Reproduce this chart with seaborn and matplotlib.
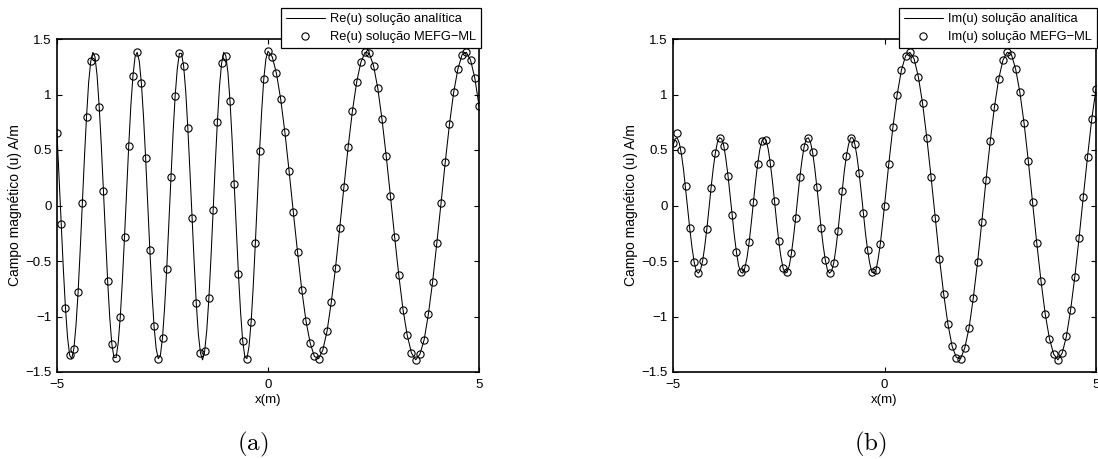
import numpy as np
import pandas as pd
import matplotlib
matplotlib.use("Agg")
import matplotlib.pyplot as plt
import seaborn as sns

# Sampling grids: analytic curve is sampled finer on x<0 (shorter wavelength)
x_line = np.concatenate([np.linspace(-5.0, 0.0, 101), np.linspace(0.1, 5.0, 50)])
x_mark = np.linspace(-5.0, 5.0, 101)

# Re(u), analytic solution
re_line = [
    0.65, 0.25, -0.17, -0.57, -0.92, -1.19, -1.35, -1.38, -1.29, -1.08,
    -0.78, -0.40, 0.02, 0.43, 0.80, 1.11, 1.30, 1.38, 1.34, 1.17,
    0.89, 0.54, 0.13, -0.29, -0.68, -1.01, -1.25, -1.37, -1.37, -1.24,
    -1.00, -0.67, -0.28, 0.14, 0.54, 0.90, 1.17, 1.34, 1.38, 1.30,
    1.10, 0.80, 0.43, 0.01, -0.40, -0.78, -1.09, -1.29, -1.38, -1.35,
    -1.19, -0.92, -0.57, -0.16, 0.26, 0.65, 0.99, 1.23, 1.37, 1.37,
    1.26, 1.03, 0.70, 0.31, -0.11, -0.51, -0.88, -1.16, -1.33, -1.39,
    -1.31, -1.12, -0.83, -0.46, -0.04, 0.37, 0.75, 1.07, 1.28, 1.38,
    1.35, 1.20, 0.94, 0.59, 0.19, -0.22, -0.62, -0.96, -1.22, -1.36,
    -1.38, -1.27, -1.05, -0.73, -0.34, 0.08, 0.49, 0.85, 1.14, 1.32,
    1.39,
    1.34, 1.19, 0.96, 0.66, 0.31, -0.06, -0.42, -0.76, -1.04, -1.24,
    -1.36, -1.38, -1.30, -1.13, -0.87, -0.56, -0.20, 0.17, 0.53, 0.85,
    1.11, 1.29, 1.38, 1.37, 1.26, 1.06, 0.78, 0.45, 0.09, -0.28,
    -0.63, -0.94, -1.17, -1.33, -1.39, -1.34, -1.21, -0.98, -0.69, -0.34,
    0.02, 0.39, 0.73, 1.02, 1.23, 1.36, 1.38, 1.31, 1.15, 0.90,
]

# Im(u), analytic solution
im_line = [
    0.54, 0.60, 0.61, 0.56, 0.46, 0.32, 0.14, -0.04, -0.22, -0.38,
    -0.51, -0.59, -0.61, -0.58, -0.50, -0.37, -0.21, -0.03, 0.16, 0.33,
    0.47, 0.57, 0.61, 0.60, 0.54, 0.42, 0.27, 0.09, -0.09, -0.27,
    -0.42, -0.54, -0.60, -0.61, -0.56, -0.47, -0.33, -0.16, 0.03, 0.21,
    0.37, 0.50, 0.58, 0.61, 0.59, 0.51, 0.38, 0.22, 0.04, -0.15,
    -0.32, -0.46, -0.56, -0.61, -0.60, -0.54, -0.43, -0.28, -0.11, 0.08,
    0.26, 0.41, 0.53, 0.60, 0.61, 0.57, 0.48, 0.34, 0.17, -0.01,
    -0.20, -0.36, -0.49, -0.58, -0.61, -0.59, -0.52, -0.39, -0.23, -0.05,
    0.13, 0.31, 0.45, 0.55, 0.61, 0.61, 0.55, 0.44, 0.29, 0.12,
    -0.07, -0.25, -0.40, -0.52, -0.60, -0.61, -0.58, -0.48, -0.35, -0.18,
    0.00,
    0.37, 0.71, 1.00, 1.22, 1.35, 1.38, 1.32, 1.16, 0.92, 0.61,
    0.26, -0.11, -0.48, -0.80, -1.07, -1.27, -1.37, -1.38, -1.28, -1.10,
    -0.83, -0.51, -0.15, 0.23, 0.58, 0.89, 1.14, 1.31, 1.38, 1.36,
    1.23, 1.02, 0.74, 0.40, 0.03, -0.34, -0.68, -0.98, -1.20, -1.34,
    -1.39, -1.33, -1.18, -0.94, -0.64, -0.29, 0.08, 0.44, 0.78, 1.05,
]

# Re(u), MEFG-ML nodal values
re_mark = [
    0.65, -0.17, -0.92, -1.35, -1.29, -0.78, 0.02, 0.80, 1.30, 1.34,
    0.89, 0.13, -0.68, -1.25, -1.37, -1.00, -0.28, 0.54, 1.17, 1.38,
    1.10, 0.43, -0.40, -1.09, -1.38, -1.19, -0.57, 0.26, 0.99, 1.37,
    1.26, 0.70, -0.11, -0.88, -1.33, -1.31, -0.83, -0.04, 0.75, 1.28,
    1.35, 0.94, 0.19, -0.62, -1.22, -1.38, -1.05, -0.34, 0.49, 1.14,
    1.39,
    1.34, 1.19, 0.96, 0.66, 0.31, -0.06, -0.42, -0.76, -1.04, -1.24,
    -1.36, -1.38, -1.30, -1.13, -0.87, -0.56, -0.20, 0.17, 0.53, 0.85,
    1.11, 1.29, 1.38, 1.37, 1.26, 1.06, 0.78, 0.45, 0.09, -0.28,
    -0.63, -0.94, -1.17, -1.33, -1.39, -1.34, -1.21, -0.98, -0.69, -0.34,
    0.02, 0.39, 0.73, 1.02, 1.23, 1.36, 1.38, 1.31, 1.15, 0.90,
]

# Im(u), MEFG-ML nodal values
im_mark = [
    0.56, 0.65, 0.50, 0.18, -0.20, -0.51, -0.61, -0.50, -0.21, 0.16,
    0.47, 0.61, 0.54, 0.27, -0.09, -0.42, -0.60, -0.56, -0.33, 0.03,
    0.37, 0.58, 0.59, 0.38, 0.04, -0.32, -0.56, -0.60, -0.43, -0.11,
    0.26, 0.53, 0.61, 0.48, 0.17, -0.20, -0.49, -0.61, -0.52, -0.23,
    0.13, 0.45, 0.61, 0.55, 0.29, -0.07, -0.40, -0.60, -0.58, -0.35,
    0.00,
    0.37, 0.71, 1.00, 1.22, 1.35, 1.38, 1.32, 1.16, 0.92, 0.61,
    0.26, -0.11, -0.48, -0.80, -1.07, -1.27, -1.37, -1.38, -1.28, -1.10,
    -0.83, -0.51, -0.15, 0.23, 0.58, 0.89, 1.14, 1.31, 1.38, 1.36,
    1.23, 1.02, 0.74, 0.40, 0.03, -0.34, -0.68, -0.98, -1.20, -1.34,
    -1.39, -1.33, -1.18, -0.94, -0.64, -0.29, 0.08, 0.44, 0.78, 1.05,
]

x_ticks = [-5, 0, 5]
x_tick_labels = ["\u22125", "0", "5"]
y_ticks = [-1.5, -1.0, -0.5, 0.0, 0.5, 1.0, 1.5]
y_tick_labels = ["\u22121.5", "\u22121", "\u22120.5", "0", "0.5", "1", "1.5"]

line_df = pd.DataFrame({"x": x_line, "re": re_line, "im": im_line})
mark_df = pd.DataFrame({"x": x_mark, "re": re_mark, "im": im_mark})

sns.set_theme(style="white")
plt.rcParams.update({
    "font.family": ["Liberation Sans", "DejaVu Sans"],
    "font.size": 9.5,
    "axes.edgecolor": "black",
    "axes.linewidth": 1.2,
    "xtick.direction": "in",
    "ytick.direction": "in",
    "xtick.top": True,
    "ytick.right": True,
    "xtick.bottom": True,
    "ytick.left": True,
    "xtick.major.size": 3.5,
    "ytick.major.size": 3.5,
    "xtick.major.width": 0.8,
    "ytick.major.width": 0.8,
    "xtick.color": "black",
    "ytick.color": "black",
    "xtick.labelsize": 9.5,
    "ytick.labelsize": 9.5,
    "xtick.major.pad": 5,
    "ytick.major.pad": 4,
    "axes.labelsize": 9.5,
    "axes.labelcolor": "black",
    "text.color": "black",
})

W, H = 1098, 459
fig = plt.figure(figsize=(W / 100, H / 100), dpi=100)
ax_re = fig.add_axes([57 / W, 87 / H, 422 / W, 333 / H])
ax_im = fig.add_axes([673 / W, 87 / H, 423 / W, 333 / H])

panels = [
    (ax_re, "re", "Re", 481 / W, 253 / W, "(a)"),
    (ax_im, "im", "Im", 1097 / W, 870 / W, "(b)"),
]

for ax, col, part, leg_right, cap_x, cap in panels:
    sns.lineplot(data=line_df, x="x", y=col, ax=ax, color="black",
                 linewidth=0.75, estimator=None, sort=False,
                 label=f"{part}(u) solução analítica")
    sns.lineplot(data=mark_df, x="x", y=col, ax=ax, color="black",
                 linestyle="none", marker="o", markersize=5.2,
                 markerfacecolor="none", markeredgecolor="black",
                 markeredgewidth=0.8, estimator=None, sort=False,
                 label=f"{part}(u) solução MEFG\u2212ML")

    ax.set_xlim(-5, 5)
    ax.set_ylim(-1.5, 1.5)
    ax.set_xticks(x_ticks)
    ax.set_xticklabels(x_tick_labels)
    ax.set_yticks(y_ticks)
    ax.set_yticklabels(y_tick_labels)
    ax.set_xlabel("x(m)", labelpad=2)
    ax.set_ylabel("Campo magnético (u) A/m", labelpad=2.5, fontsize=10)
    for sp in ax.spines.values():
        sp.set_linewidth(1.2)
        sp.set_color("black")

    leg = ax.legend(loc="upper right", bbox_to_anchor=(leg_right, 1 - 8 / H),
                    bbox_transform=fig.transFigure, borderaxespad=0,
                    frameon=True, fancybox=False, framealpha=1,
                    edgecolor="black", fontsize=9.3, handlelength=3.0,
                    handletextpad=0.4, borderpad=0.4, labelspacing=0.45)
    leg.get_frame().set_linewidth(0.9)

    fig.text(cap_x, 1 - 444 / H, r"$\mathrm{" + cap + "}$", ha="center",
             va="center", fontsize=18, math_fontfamily="cm")

fig.savefig("out.png", dpi=100, facecolor="white")
